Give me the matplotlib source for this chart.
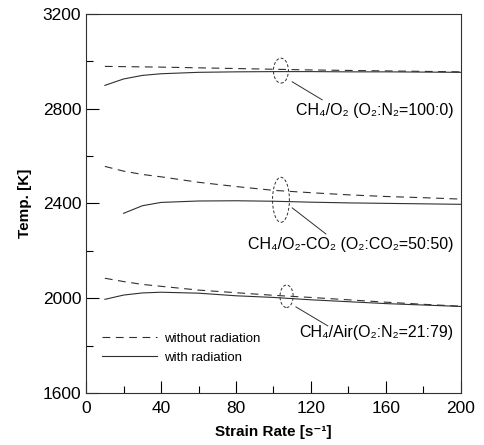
import matplotlib
matplotlib.use("Agg")
import matplotlib.pyplot as plt
from matplotlib.patches import Ellipse
from matplotlib.ticker import MultipleLocator

plt.rcParams["font.family"] = ["Liberation Sans", "DejaVu Sans"]

strain = [10, 20, 30, 40, 60, 80, 100, 120, 140, 160, 180, 200]

o2_norad = [2978, 2977, 2976, 2975, 2972, 2969, 2966, 2963, 2961, 2959, 2957, 2955]
o2_rad = [2898, 2925, 2940, 2947, 2953, 2955, 2956, 2956, 2955, 2955, 2954, 2953]

co2_norad = [2556, 2536, 2522, 2512, 2489, 2471, 2455, 2445, 2436, 2429, 2424, 2418]
co2_strain_rad = [20, 30, 40, 60, 80, 100, 120, 140, 160, 180, 200]
co2_rad = [2358, 2390, 2404, 2410, 2411, 2409, 2405, 2402, 2400, 2398, 2396]

air_norad = [2084, 2070, 2058, 2050, 2034, 2023, 2012, 2003, 1993, 1983, 1974, 1966]
air_rad = [1995, 2013, 2022, 2025, 2021, 2010, 2003, 1993, 1985, 1977, 1971, 1965]

labels = ["CH₄/O₂ (O₂:N₂=100:0)", "CH₄/O₂-CO₂ (O₂:CO₂=50:50)", "CH₄/Air(O₂:N₂=21:79)"]

fig = plt.figure(figsize=(4.84, 4.45), dpi=100)
ax = fig.add_axes([0.178, 0.117, 0.774, 0.852])

lc = "#303030"
dash = (0, (7, 5))
ax.plot(strain, o2_norad, color=lc, lw=0.8, ls=dash, label="without radiation")
ax.plot(strain, o2_rad, color=lc, lw=0.8, label="with radiation")
ax.plot(strain, co2_norad, color=lc, lw=0.8, ls=dash)
ax.plot(co2_strain_rad, co2_rad, color=lc, lw=0.8)
ax.plot(strain, air_norad, color=lc, lw=0.8, ls=dash)
ax.plot(strain, air_rad, color=lc, lw=0.8)

# ellipses and leader lines
for (cx, cy, w, h) in [(104, 2960, 8, 105), (104, 2415, 9, 190), (107, 2008, 7, 95)]:
    ax.add_patch(Ellipse((cx, cy), w, h, fill=False, ls=(0, (3, 2)), lw=0.7, color=lc))
ax.plot([110, 126], [2913, 2837], color=lc, lw=0.7)
ax.plot([110, 128], [2381, 2271], color=lc, lw=0.7)
ax.plot([112, 129], [1963, 1883], color=lc, lw=0.7)

ax.text(196, 2790, labels[0], ha="right", va="center", fontsize=11.5)
ax.text(196, 2226, labels[1], ha="right", va="center", fontsize=11.5)
ax.text(196, 1853, labels[2], ha="right", va="center", fontsize=11.5)

ax.set_xlim(0, 200)
ax.set_ylim(1600, 3200)
ax.xaxis.set_major_locator(MultipleLocator(40))
ax.xaxis.set_minor_locator(MultipleLocator(20))
ax.yaxis.set_major_locator(MultipleLocator(400))
ax.yaxis.set_minor_locator(MultipleLocator(200))
ax.tick_params(which="major", direction="in", length=9, width=0.8, labelsize=12.5)
ax.tick_params(axis="x", which="major", pad=6)
ax.tick_params(which="minor", direction="in", length=5, width=0.8)
for s in ax.spines.values():
    s.set_linewidth(0.8)
    s.set_color(lc)

ax.set_xlabel("Strain Rate [s⁻¹]", fontsize=11, fontweight="bold", labelpad=6)
ax.set_ylabel("Temp. [K]", fontsize=11, fontweight="bold", labelpad=8)

ax.legend(loc="lower left", bbox_to_anchor=(0.01, 0.045), frameon=False,
          fontsize=9.5, handlelength=4.2, handletextpad=0.5, labelspacing=0.55)

fig.savefig("out.png", dpi=100)
